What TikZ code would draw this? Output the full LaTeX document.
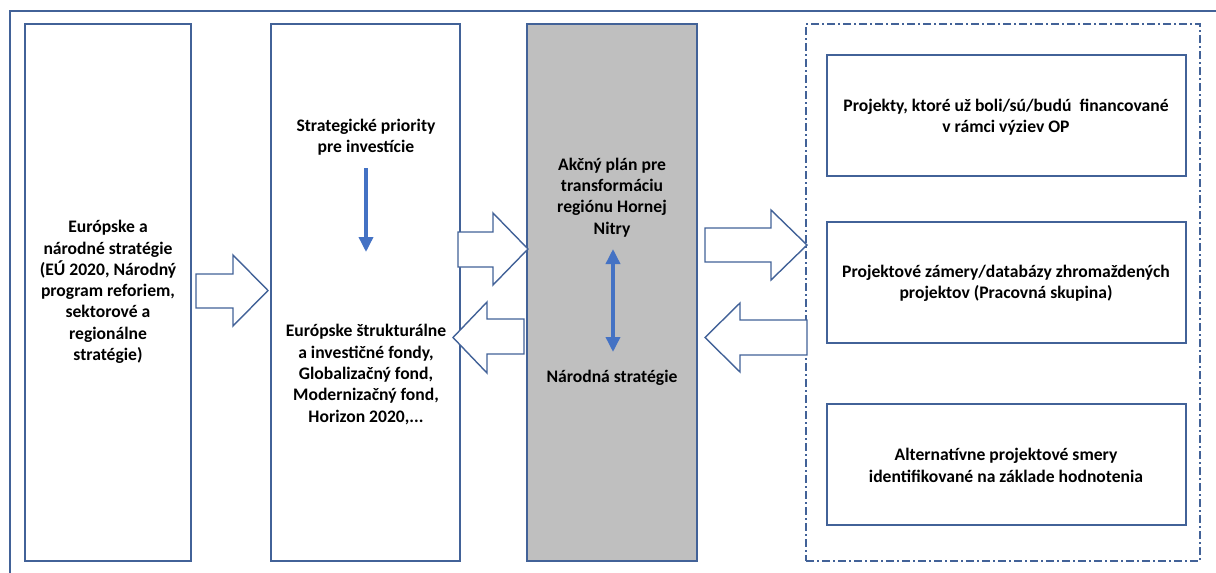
\documentclass[tikz,border=0pt]{standalone}
\usepackage{fontspec}
\setmainfont{Carlito}
\usetikzlibrary{arrows.meta}
\definecolor{frameblue}{RGB}{66,98,152}
\definecolor{arrblue}{RGB}{68,114,196}
\definecolor{boxgray}{RGB}{191,191,191}
\tikzset{
  box/.style={draw=frameblue, line width=2pt, fill=white, inner sep=0pt},
  txt/.style={align=center, font=\bfseries\fontsize{17.6}{21.3}\selectfont, inner sep=0pt},
  blockarrow/.style={draw=frameblue, line width=1.4pt, fill=white, line join=miter},
  thinarrow/.style={draw=arrblue, line width=3.5pt, -{Triangle[length=15pt,width=14pt]}},
  dblarrow/.style={draw=arrblue, line width=3.5pt, {Triangle[length=15pt,width=14pt]}-{Triangle[length=15pt,width=14pt]}},
}
\begin{document}
\begin{tikzpicture}[x=1pt,y=-1pt]
\useasboundingbox (0,0) rectangle (1216,573);
% outer frame (top and left edges visible)
\draw[frameblue, line width=1.2pt] (10,580) -- (10,11) -- (1220,11);

% main column boxes
\node[box, minimum width=166pt, minimum height=537pt] (b1) at (108,292.5) {};
\node[box, minimum width=189pt, minimum height=537pt] (b2) at (365.5,292.5) {};
\node[box, fill=boxgray, minimum width=170pt, minimum height=537pt] (b3) at (612,292.5) {};

% dash-dot group
\node[draw=frameblue, line width=1.5pt, dash pattern=on 8pt off 3pt on 2pt off 3pt,
      minimum width=394pt, minimum height=537pt, inner sep=0pt] (grp) at (1003,292.5) {};

% right boxes
\node[box, minimum width=359pt, minimum height=121pt] (r1) at (1006,115.5) {};
\node[box, minimum width=359pt, minimum height=121pt] (r2) at (1006,282) {};
\node[box, minimum width=359pt, minimum height=121pt] (r3) at (1006,464) {};

% texts
\node[txt] (t1) at (108,292) {Európske a\\národné stratégie\\(EÚ 2020, Národný\\program reforiem,\\sektorové a\\regionálne\\stratégie)};
\node[txt] (t2a) at (366,137.5) {Strategické priority\\pre investície};
\node[txt] (t2b) at (366,374.5) {Európske štrukturálne\\a investičné fondy,\\Globalizačný fond,\\Modernizačný fond,\\Horizon 2020,...};
\node[txt] (t3a) at (612,197.5) {Akčný plán pre\\transformáciu\\regiónu Hornej\\Nitry};
\node[txt] (t3b) at (612,378) {Národná stratégie};
\node[txt] (tr1) at (1006,117.5) {Projekty, ktoré už boli/sú/budú~~financované\\v rámci výziev OP};
\node[txt] (tr2) at (1006,283) {Projektové zámery/databázy zhromaždených\\projektov (Pracovná skupina)};
\node[txt] (tr3) at (1006,465.5) {Alternatívne projektové smery\\identifikované na základe hodnotenia};

% thin blue arrows
\coordinate (d1s) at (366,168);
\coordinate (d1e) at (366,252);
\draw[thinarrow] (d1s) -- (d1e);
\coordinate (d2s) at (613,249);
\coordinate (d2e) at (613,352);
\draw[dblarrow] (d2s) -- (d2e);

% block arrows
\draw[blockarrow] (196,274) -- (233,274) -- (233,255) -- (268,290.5) -- (233,326) -- (233,308) -- (196,308) -- cycle;
\draw[blockarrow] (458,232) -- (493,232) -- (493,213) -- (528,249) -- (493,285) -- (493,267) -- (458,267) -- cycle;
\draw[blockarrow] (524,319) -- (487,319) -- (487,302) -- (453,337.5) -- (487,373) -- (487,354) -- (524,354) -- cycle;
\draw[blockarrow] (705,228) -- (771,228) -- (771,210) -- (807,245) -- (771,280) -- (771,262) -- (705,262) -- cycle;
\draw[blockarrow] (807,320) -- (740,320) -- (740,303) -- (705,337.5) -- (740,372) -- (740,355) -- (807,355) -- cycle;
\end{tikzpicture}
\end{document}
